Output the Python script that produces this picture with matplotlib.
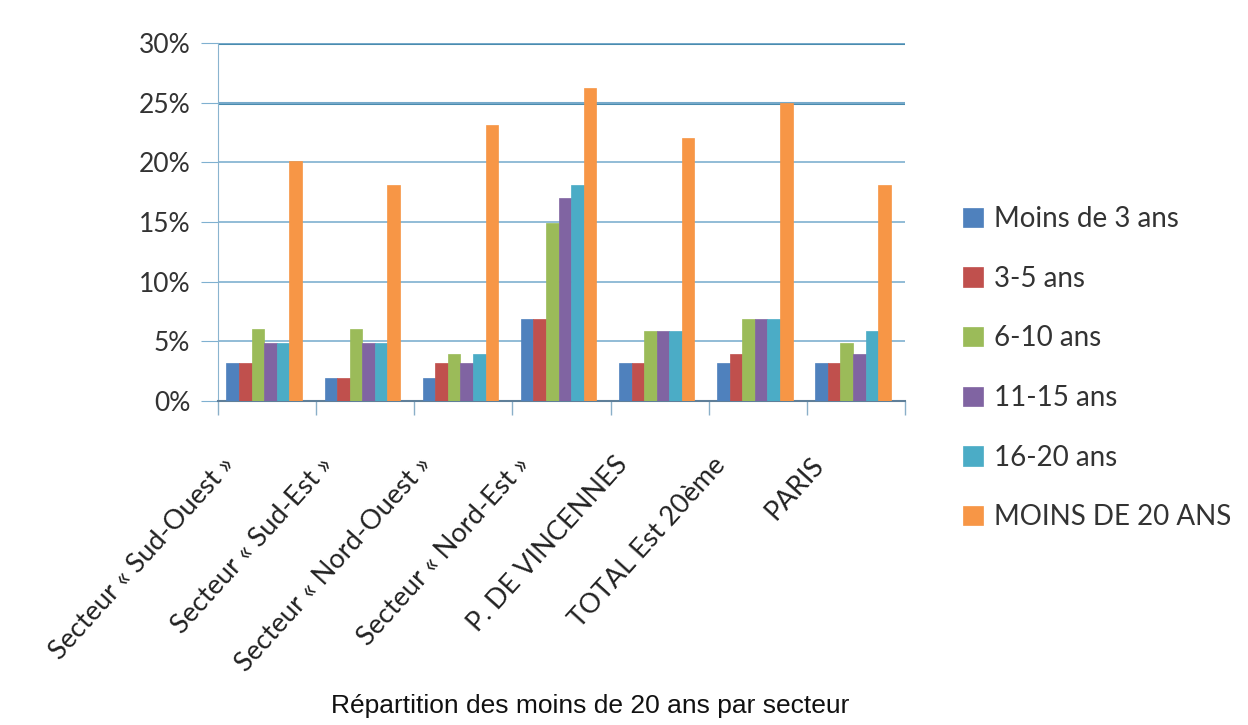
import numpy as np
import matplotlib.pyplot as plt
from matplotlib.ticker import FuncFormatter

# --- données ---
secteurs = ['Secteur « Sud-Ouest »', 'Secteur « Sud-Est »', 'Secteur « Nord-Ouest »',
            'Secteur « Nord-Est »', 'P. DE VINCENNES', 'TOTAL Est 20ème', 'PARIS']
series = ['Moins de 3 ans', '3-5 ans', '6-10 ans', '11-15 ans', '16-20 ans', 'MOINS DE 20 ANS']
moins_3 = [3.2, 1.9, 1.9, 6.9, 3.2, 3.2, 3.2]
ans_3_5 = [3.2, 1.9, 3.2, 6.9, 3.2, 3.9, 3.2]
ans_6_10 = [6.0, 6.0, 3.9, 14.9, 5.9, 6.9, 4.9]
ans_11_15 = [4.9, 4.9, 3.2, 17.0, 5.9, 6.9, 3.9]
ans_16_20 = [4.9, 4.9, 3.9, 18.1, 5.9, 6.9, 5.9]
moins_20 = [20.1, 18.1, 23.1, 26.2, 22.0, 25.0, 18.1]
couleurs = ['#4F81BD', '#C0504D', '#9BBB59', '#8064A2', '#4BACC6', '#F79646']

valeurs = [moins_3, ans_3_5, ans_6_10, ans_11_15, ans_16_20, moins_20]

plt.rcParams['font.family'] = ['Lato', 'DejaVu Sans']

fig = plt.figure(figsize=(12.48, 7.25), dpi=100)
ax = fig.add_axes([0.1747, 0.4469, 0.5505, 0.4938])

x = np.arange(len(secteurs))
w = 0.128
for i, (nom, vals, c) in enumerate(zip(series, valeurs, couleurs)):
    ax.bar(x - 0.03 + (i - 2.5) * w, vals, width=w, color=c, label=nom,
           edgecolor=c, linewidth=0.5, zorder=3)

ax.set_xlim(-0.5, len(secteurs) - 0.5)
ax.set_ylim(0, 30)
ax.set_yticks(range(0, 31, 5))
ax.yaxis.set_major_formatter(FuncFormatter(lambda v, p: f'{int(v)}%'))
ax.grid(axis='y', color='#7FB0D0', linewidth=1.2, zorder=0)
for yy in (25, 30):
    ax.axhline(yy, color='#4A8CAE', linewidth=2.2, zorder=1)

ax.set_xticks(np.arange(-0.5, len(secteurs), 1.0))
ax.set_xticklabels([])
ax.tick_params(axis='x', length=10, color='#8AAFC8', width=1)
ax.tick_params(axis='y', length=12, color='#7FB0D0', labelsize=19,
               labelcolor='#333333', pad=8)
for lab_x, lab in zip(x, secteurs):
    ax.text(lab_x - 0.37, -5.0, lab, rotation=48, rotation_mode='anchor',
            ha='right', va='center', fontsize=19.5, color='#222222')

for s in ['top', 'right']:
    ax.spines[s].set_visible(False)
ax.spines['left'].set_color('#8AB4CF')
ax.spines['bottom'].set_color('#5F7F99')
ax.spines['bottom'].set_linewidth(1.5)

leg = fig.legend(loc='upper left', bbox_to_anchor=(0.752, 0.75), frameon=False,
                 fontsize=20, handlelength=0.7, handleheight=0.7,
                 handletextpad=0.4, labelspacing=1.21)
for t in leg.get_texts():
    t.set_color('#333333')

fig.text(0.473, 0.026, 'Répartition des moins de 20 ans par secteur',
         ha='center', va='center', fontsize=19, color='#111111',
         family=['Liberation Sans', 'DejaVu Sans'])

fig.savefig('out.png', dpi=100)
